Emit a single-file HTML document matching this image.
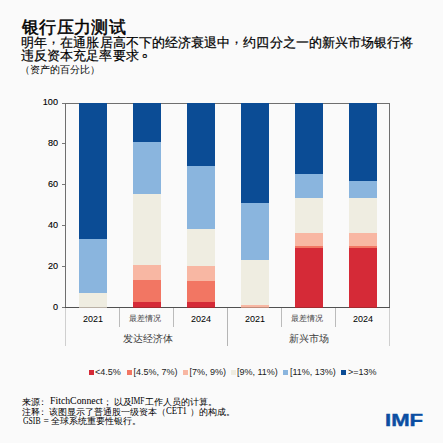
<!DOCTYPE html>
<html><head><meta charset="utf-8">
<style>
html,body{margin:0;padding:0;}
body{width:443px;height:443px;background:#fafafa;position:relative;overflow:hidden;font-family:"Liberation Sans",sans-serif;color:#000;}
.a{position:absolute;white-space:nowrap;}
.seg{position:absolute;}
.tick{position:absolute;left:62px;width:3px;height:1px;background:#777;}
.ylab{position:absolute;right:385px;font-size:9.1px;line-height:12px;text-align:right;-webkit-text-stroke:0.12px #000;}
.vl{position:absolute;width:1px;}
.lg{position:absolute;top:369.5px;width:5px;height:5px;}
.lt{position:absolute;top:366px;font-size:9px;line-height:12px;color:#1a1a1a;}
.fn{position:absolute;font-size:9px;line-height:12px;white-space:nowrap;}
.cm{position:relative;top:-3.5px;}
.pd{display:inline-block;transform:translate(3px,-4.5px) scale(1.35);transform-origin:25% 75%;}
.pc{position:relative;left:-2.5px;}
.lat{font-family:"Liberation Serif",serif;font-size:9.5px;transform-origin:0 0;}
.xl{position:absolute;font-size:9px;line-height:12px;text-align:center;width:54px;}
.dg{}
</style></head><body>
<div class="a" style="left:21.8px;top:16.5px;font-size:17px;letter-spacing:0.4px;line-height:22px;-webkit-text-stroke:0.5px #000;">银行压力测试</div>
<div class="a" style="left:21px;top:35.5px;font-size:13px;letter-spacing:0.08px;line-height:13.3px;-webkit-text-stroke:0.2px #000;">明年<span class="cm">，</span>在通胀居高不下的经济衰退中<span class="cm">，</span>约四分之一的新兴市场银行将<br>违反资本充足率要求<span class="pd">。</span></div>
<div class="a" style="left:19.5px;top:64px;font-size:10px;line-height:12px;">（资产的百分比）</div>

<div class="vl" style="left:65px;top:103px;height:205px;background:#6f6f6f"></div>
<div class="vl" style="left:389px;top:103px;height:205px;background:#6f6f6f"></div>
<div class="a" style="left:65px;top:103px;width:325px;height:1px;background:#6f6f6f"></div>
<div class="a" style="left:65px;top:307px;width:325px;height:1px;background:#505050"></div>
<div class="seg" style="left:79px;top:292.72px;width:28px;height:15.28px;background:#efede1"></div>
<div class="seg" style="left:79px;top:239.07px;width:28px;height:53.65px;background:#8ab5de"></div>
<div class="seg" style="left:79px;top:103.00px;width:28px;height:136.07px;background:#0b4c95"></div>
<div class="seg" style="left:133px;top:301.90px;width:28px;height:6.10px;background:#d52a37"></div>
<div class="seg" style="left:133px;top:279.87px;width:28px;height:22.03px;background:#f27663"></div>
<div class="seg" style="left:133px;top:265.18px;width:28px;height:14.69px;background:#f8b7a3"></div>
<div class="seg" style="left:133px;top:194.39px;width:28px;height:70.79px;background:#efede1"></div>
<div class="seg" style="left:133px;top:141.76px;width:28px;height:52.63px;background:#8ab5de"></div>
<div class="seg" style="left:133px;top:103.00px;width:28px;height:38.76px;background:#0b4c95"></div>
<div class="seg" style="left:187px;top:301.70px;width:28px;height:6.30px;background:#d52a37"></div>
<div class="seg" style="left:187px;top:280.68px;width:28px;height:21.01px;background:#f27663"></div>
<div class="seg" style="left:187px;top:265.79px;width:28px;height:14.89px;background:#f8b7a3"></div>
<div class="seg" style="left:187px;top:229.07px;width:28px;height:36.72px;background:#efede1"></div>
<div class="seg" style="left:187px;top:166.04px;width:28px;height:63.04px;background:#8ab5de"></div>
<div class="seg" style="left:187px;top:103.00px;width:28px;height:63.04px;background:#0b4c95"></div>
<div class="seg" style="left:241px;top:304.96px;width:28px;height:3.04px;background:#f8b7a3"></div>
<div class="seg" style="left:241px;top:260.08px;width:28px;height:44.88px;background:#efede1"></div>
<div class="seg" style="left:241px;top:202.55px;width:28px;height:57.53px;background:#8ab5de"></div>
<div class="seg" style="left:241px;top:103.00px;width:28px;height:99.55px;background:#0b4c95"></div>
<div class="seg" style="left:295px;top:247.84px;width:28px;height:60.16px;background:#d52a37"></div>
<div class="seg" style="left:295px;top:245.80px;width:28px;height:2.04px;background:#f27663"></div>
<div class="seg" style="left:295px;top:232.95px;width:28px;height:12.85px;background:#f8b7a3"></div>
<div class="seg" style="left:295px;top:197.66px;width:28px;height:35.29px;background:#efede1"></div>
<div class="seg" style="left:295px;top:173.99px;width:28px;height:23.66px;background:#8ab5de"></div>
<div class="seg" style="left:295px;top:103.00px;width:28px;height:70.99px;background:#0b4c95"></div>
<div class="seg" style="left:349px;top:247.84px;width:28px;height:60.16px;background:#d52a37"></div>
<div class="seg" style="left:349px;top:245.80px;width:28px;height:2.04px;background:#f27663"></div>
<div class="seg" style="left:349px;top:232.95px;width:28px;height:12.85px;background:#f8b7a3"></div>
<div class="seg" style="left:349px;top:197.66px;width:28px;height:35.29px;background:#efede1"></div>
<div class="seg" style="left:349px;top:180.93px;width:28px;height:16.73px;background:#8ab5de"></div>
<div class="seg" style="left:349px;top:103.00px;width:28px;height:77.93px;background:#0b4c95"></div>
<div class="seg" style="left:79px;top:307px;width:28px;height:1px;background:rgba(60,40,30,0.3)"></div>
<div class="seg" style="left:133px;top:307px;width:28px;height:1px;background:rgba(60,40,30,0.3)"></div>
<div class="seg" style="left:187px;top:307px;width:28px;height:1px;background:rgba(60,40,30,0.3)"></div>
<div class="seg" style="left:241px;top:307px;width:28px;height:1px;background:rgba(60,40,30,0.3)"></div>
<div class="seg" style="left:295px;top:307px;width:28px;height:1px;background:rgba(60,40,30,0.3)"></div>
<div class="seg" style="left:349px;top:307px;width:28px;height:1px;background:rgba(60,40,30,0.3)"></div>
<div class="a" style="left:79px;top:307px;width:298px;height:1px;background:transparent"></div>
<div class="tick" style="top:306.50px"></div>
<div class="ylab" style="top:301.20px">0</div>
<div class="tick" style="top:265.70px"></div>
<div class="ylab" style="top:260.24px">20</div>
<div class="tick" style="top:224.90px"></div>
<div class="ylab" style="top:219.28px">40</div>
<div class="tick" style="top:184.10px"></div>
<div class="ylab" style="top:178.32px">60</div>
<div class="tick" style="top:143.30px"></div>
<div class="ylab" style="top:137.36px">80</div>
<div class="tick" style="top:102.50px"></div>
<div class="ylab" style="top:96.40px">100</div>
<!-- category dividers -->
<div class="vl" style="left:65px;top:308px;height:38px;background:#cfcfcf"></div>
<div class="vl" style="left:227px;top:308px;height:38px;background:#b5b5b5"></div>
<div class="vl" style="left:389px;top:308px;height:38px;background:#cfcfcf"></div>
<div class="vl" style="left:119px;top:308px;height:19px;background:#bbb"></div>
<div class="vl" style="left:173px;top:308px;height:19px;background:#bbb"></div>
<div class="vl" style="left:281px;top:308px;height:19px;background:#bbb"></div>
<div class="vl" style="left:335px;top:308px;height:19px;background:#bbb"></div>

<div class="xl dg" style="left:66px;top:313px;">2021</div>
<div class="xl" style="left:117.5px;top:313px;font-size:8px;color:#444;">最差情况</div>
<div class="xl dg" style="left:174px;top:313px;">2024</div>
<div class="xl dg" style="left:228px;top:313px;">2021</div>
<div class="xl" style="left:279.5px;top:313px;font-size:8px;color:#444;">最差情况</div>
<div class="xl dg" style="left:336px;top:313px;">2024</div>
<div class="xl" style="left:67px;top:333px;width:162px;font-size:10.4px;color:#3a3a3a;">发达经济体</div>
<div class="xl" style="left:228px;top:333px;width:162px;font-size:10.4px;color:#3a3a3a;">新兴市场</div>

<!-- legend -->
<div class="lg" style="left:89px;background:#d52a37"></div><div class="lt" style="left:95px">&lt;4.5%</div>
<div class="lg" style="left:127px;background:#f27663"></div><div class="lt" style="left:133.5px">[4.5%, 7%)</div>
<div class="lg" style="left:183px;background:#f8b7a3"></div><div class="lt" style="left:189.5px">[7%, 9%)</div>
<div class="lg" style="left:230.5px;background:#efede1"></div><div class="lt" style="left:237px">[9%, 11%)</div>
<div class="lg" style="left:283px;background:#8ab5de"></div><div class="lt" style="left:290px">[11%, 13%)</div>
<div class="lg" style="left:341px;background:#0b4c95"></div><div class="lt" style="left:348px">&gt;=13%</div>

<!-- notes -->
<div class="fn" style="left:22px;top:395.5px;">来源<span class="pc">：</span></div>
<div class="fn lat" style="left:50.3px;top:395px;transform:scaleX(1.03)">FitchConnect</div>
<div class="fn" style="left:105px;top:395.5px;"><span class="pc">；</span>以及</div>
<div class="fn lat" style="left:130.5px;top:395px;transform:scaleX(0.8)">IMF</div>
<div class="fn" style="left:145px;top:395.5px;">工作人员的计算。</div>
<div class="fn" style="left:22px;top:405.7px;">注释<span class="pc">：</span>该图显示了普通股一级资本（</div>
<div class="fn lat" style="left:166.3px;top:405.3px;transform:scaleX(0.92)">CET1</div>
<div class="fn" style="left:190px;top:405.7px;">）的构成。</div>
<div class="fn lat" style="left:23px;top:415px;transform:scaleX(0.81)">GSIB</div>
<div class="fn lat" style="left:43.5px;top:415px;">=</div>
<div class="fn" style="left:51px;top:414.5px;">全球系统重要性银行。</div>

<div class="a" style="left:385px;top:409.8px;font-size:16.4px;line-height:20px;font-weight:bold;color:#0b4ea2;transform-origin:0 0;transform:scaleX(1.35);-webkit-text-stroke:0.4px #0b4ea2;">IMF</div>
</body></html>
